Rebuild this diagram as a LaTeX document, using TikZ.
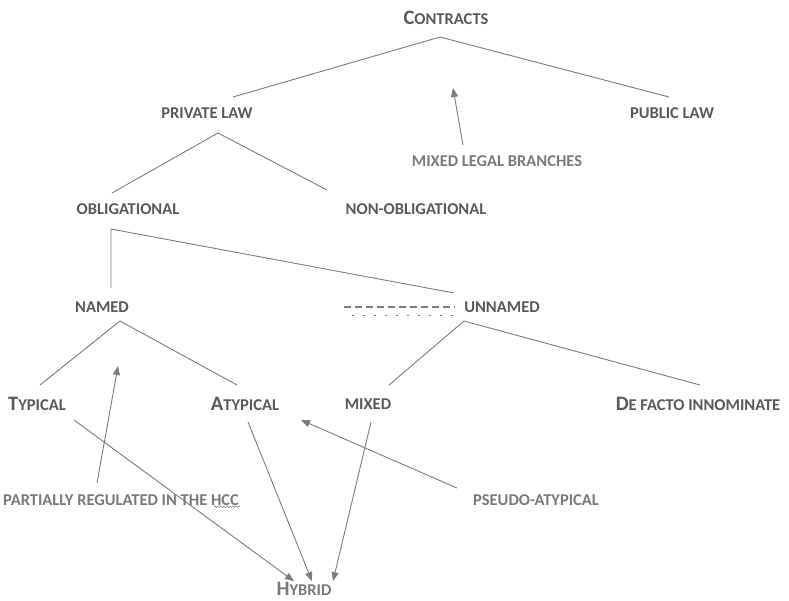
\documentclass[tikz,border=0pt]{standalone}
\usepackage{fontspec}
\setmainfont{Carlito}
\usetikzlibrary{arrows.meta,positioning,calc,decorations.pathmorphing}
\definecolor{darktext}{HTML}{595959}
\definecolor{lighttext}{HTML}{7A7A7A}
\definecolor{linegray}{HTML}{7C7C7C}
\newcommand{\initcap}[1]{{\fontsize{20.5}{22}\selectfont #1}}

\begin{document}
\begin{tikzpicture}[x=1pt,y=-1pt,
    lbl/.style={font=\fontsize{16.5}{18}\bfseries, text=darktext, inner sep=1pt},
    lightlbl/.style={lbl, text=lighttext},
    branch/.style={draw=linegray, line width=0.9pt},
    pointer/.style={branch, -{Triangle[length=9pt,width=7pt]}}]
  \useasboundingbox (0,0) rectangle (789,600);
  % labels
  \node[lbl] (contracts) at (446,18) {\initcap{C}ONTRACTS};
  \node[lbl] (private) at (207,113) {PRIVATE LAW};
  \node[lbl] (public) at (672,113) {PUBLIC LAW};
  \node[lightlbl] (mixedlegal) at (497,161) {MIXED LEGAL BRANCHES};
  \node[lbl] (oblig) at (128,209) {OBLIGATIONAL};
  \node[lbl] (nonoblig) at (416,209) {NON-OBLIGATIONAL};
  \node[lbl] (named) at (102,307) {NAMED};
  \node[lbl] (unnamed) at (502,307) {UNNAMED};
  \node[lbl] (typical) at (37,404) {\initcap{T}YPICAL};
  \node[lbl] (atypical) at (245,404) {\initcap{A}TYPICAL};
  \node[lbl] (mixed) at (368,404) {MIXED};
  \node[lbl] (defacto) at (698,404) {\initcap{D}E FACTO INNOMINATE};
  \node[lightlbl] (partial) at (121,500) {PARTIALLY REGULATED IN THE HCC};
  \node[lightlbl] (pseudo) at (536,500) {PSEUDO-ATYPICAL};
  \node[lightlbl] (hybrid) at (304,589) {\initcap{H}YBRID};
  % branch points
  \coordinate (contracts-fork) at (440,37);
  \coordinate (private-top) at (233,97);
  \coordinate (public-top) at (669,97);
  \coordinate (private-fork) at (218,133);
  \coordinate (oblig-top) at (112,193);
  \coordinate (nonoblig-top) at (327,190);
  \coordinate (oblig-fork) at (111,229);
  \coordinate (named-top) at (111,288);
  \coordinate (unnamed-top) at (454,293);
  \coordinate (named-fork) at (120,321);
  \coordinate (typical-top) at (40,385);
  \coordinate (atypical-top) at (237,385);
  \coordinate (unnamed-fork) at (464,321);
  \coordinate (mixed-top) at (389,385);
  \coordinate (defacto-top) at (700,385);
  % tree
  \draw[branch] (private-top) -- (contracts-fork) -- (public-top);
  \draw[branch] (oblig-top) -- (private-fork) -- (nonoblig-top);
  \draw[branch] (named-top) -- (oblig-fork) -- (unnamed-top);
  \draw[branch] (typical-top) -- (named-fork) -- (atypical-top);
  \draw[branch] (mixed-top) -- (unnamed-fork) -- (defacto-top);
  % dashes before unnamed
  \draw[branch, line width=1.4pt, dash pattern=on 7pt off 4pt] (344,307) -- (455,307);
  \draw[branch, line width=1pt, dash pattern=on 1.5pt off 9.5pt] (352,315) -- (458,315);
  % pointers
  \coordinate (mixedlegal-tail) at (463,145);
  \coordinate (mixedlegal-tip) at (453,88);
  \coordinate (partial-tail) at (97,483);
  \coordinate (partial-tip) at (118,366);
  \coordinate (pseudo-tail) at (457,488);
  \coordinate (pseudo-tip) at (301,420);
  \coordinate (typical-tail) at (74,420);
  \coordinate (atypical-tail) at (248,422);
  \coordinate (mixed-tail) at (371,422);
  \draw[pointer] (mixedlegal-tail) -- (mixedlegal-tip);
  \draw[pointer] (partial-tail) -- (partial-tip);
  \draw[pointer] (pseudo-tail) -- (pseudo-tip);
  \draw[pointer] (typical-tail) -- ([xshift=-10pt]hybrid.north);
  \draw[pointer] (atypical-tail) -- ([xshift=8pt]hybrid.north);
  \draw[pointer] (mixed-tail) -- ([xshift=29pt]hybrid.north);
  % squiggle under HCC
  \draw[linegray, line width=0.5pt, decorate, decoration={snake, segment length=3pt, amplitude=0.8pt}]
    ($(partial.south east)+(-26,0)$) -- ($(partial.south east)+(0,0)$);
\end{tikzpicture}
\end{document}
